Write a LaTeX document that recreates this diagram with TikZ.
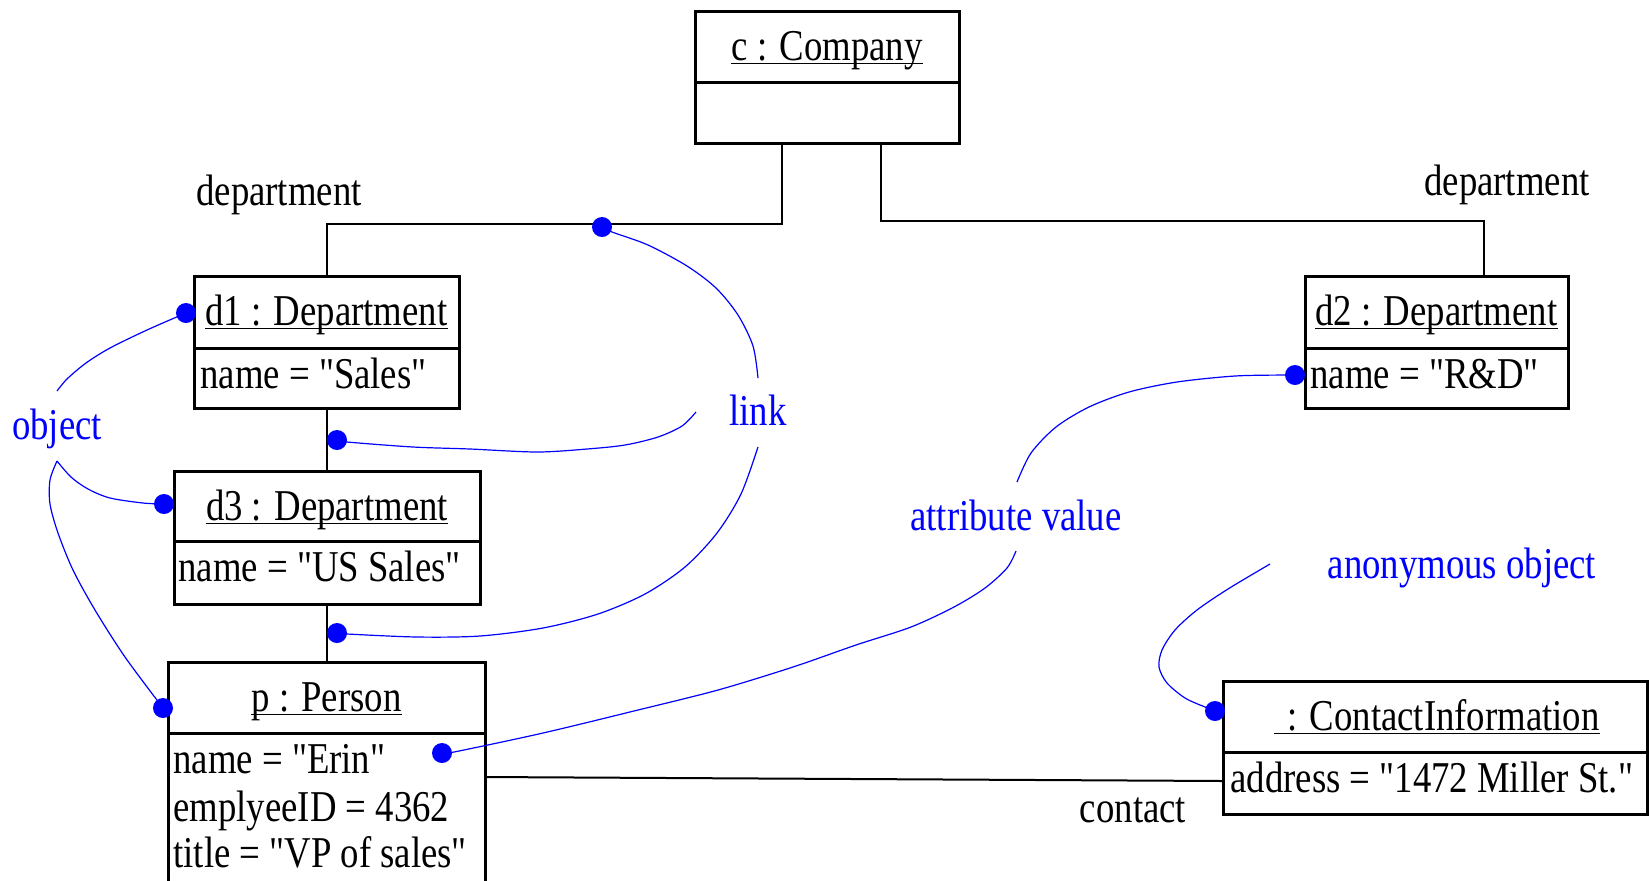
\documentclass[tikz,border=0pt]{standalone}
\usepackage{fontspec}
\setmainfont{Liberation Serif}[FakeStretch=0.835, Ligatures=TeXOff]
\usetikzlibrary{fit}
\definecolor{ann}{RGB}{0,0,255}
\begin{document}
\begin{tikzpicture}[x=0.5pt,y=-0.5pt,
  every node/.style={font=\fontsize{22}{26}\selectfont},
  obox/.style={draw, line width=1.5pt, inner sep=0pt},
  sep/.style={line width=1.5pt},
  conn/.style={line width=1pt},
  ttl/.style={anchor=base, inner sep=0pt},
  attr/.style={anchor=base west, inner sep=0pt},
  lbl/.style={anchor=base, inner sep=0pt},
  note/.style={anchor=base, inner sep=0pt, text=ann},
  nline/.style={draw=ann, line width=0.6pt},
  dot/.style={circle, fill=ann, inner sep=0pt, minimum size=10pt},
  uline/.style={line width=0.7pt},
]
\useasboundingbox (0,0) rectangle (1649,880);

% boxes
\node[obox, fit={(695,11) (959,143)}] (c) {};
\draw[sep] (695,82) -- (959,82);
\node[ttl] (tc) at (827,60) {c : Company};

\node[obox, fit={(194,276) (459,408)}] (d1) {};
\draw[sep] (194,348) -- (459,348);
\node[ttl] (t1) at (326.5,325) {d1 : Department};
\node[attr] (a1t) at (200,388) {name = "Sales"};

\node[obox, fit={(1305,276) (1568,408)}] (d2) {};
\draw[sep] (1305,348) -- (1568,348);
\node[ttl] (t2) at (1436.5,325) {d2 : Department};
\node[attr] (a2t) at (1310,388) {name = "R\&D"};

\node[obox, fit={(174,471) (480,604)}] (d3) {};
\draw[sep] (174,541) -- (480,541);
\node[ttl] (t3) at (327,520) {d3 : Department};
\node[attr] (a3t) at (178,581) {name = "US Sales"};

\node[obox, fit={(168,662) (485,900)}] (p) {};
\draw[sep] (168,733) -- (485,733);
\node[ttl] (tp) at (326.5,711) {p : Person};
\node[attr] (ap1) at (173,773) {name = "Erin"};
\node[attr] (ap2) at (173,821) {emplyeeID = 4362};
\node[attr] (ap3) at (173,867) {title = "VP of sales"};

\node[obox, fit={(1223,681) (1647,814)}] (ci) {};
\draw[sep] (1223,752) -- (1647,752);
\node[ttl] (ti) at (1437,730) {\hspace*{6.5pt}: ContactInformation};
\node[attr] (ait) at (1230,792) {address = "1472 Miller St."};

\foreach \n in {tc,t1,t2,t3,tp,ti}
  \draw[uline] ([yshift=-1.6pt]\n.base west) -- ([yshift=-1.6pt]\n.base east);

% links
\coordinate (cl) at (782,224);
\coordinate (cr) at (881,221);
\coordinate (cr2) at (1484,221);
\draw[conn] (c.south -| cl) -- (cl) -- (cl -| d1.north) -- (d1.north);
\draw[conn] (c.south -| cr) -- (cr) -- (cr2) -- (d2.north -| cr2);
\draw[conn] (d1.south) -- (d1.south |- d3.north);
\draw[conn] (d3.south) -- (d3.south |- p.north);
\coordinate (ce) at (485,777);
\coordinate (cw) at (1223,781);
\draw[conn] (ce) -- (cw);

% black labels
\node[lbl] (dl) at (279,205) {department};
\node[lbl] (dr) at (1507,195) {department};
\node[lbl] (ct) at (1133,822) {contact};

% blue notes
\node[note] (nobj) at (57,439) {object};
\node[note] (nlink) at (758,425) {link};
\node[note] (nattr) at (1016,530) {attribute value};
\node[note] (nanon) at (1462,578) {anonymous object};

\node[dot] (o1) at (186,313) {};
\node[dot] (o2) at (164,504) {};
\node[dot] (o3) at (163,708) {};
\node[dot] (l1) at (602,227) {};
\node[dot] (l2) at (337,440) {};
\node[dot] (l3) at (337,633) {};
\node[dot] (v1) at (1295,375) {};
\node[dot] (v2) at (442,753) {};
\node[dot] (an) at (1215,711) {};

\coordinate (eo1) at (57,391);
\coordinate (eo2) at (57,461);
\coordinate (el1) at (758,378);
\coordinate (el2) at (696,412);
\coordinate (el3) at (758,447);
\coordinate (ev1) at (1017,482);
\coordinate (ev2) at (1016,551);
\coordinate (ea) at (1270,564);

\draw[nline] plot[smooth] coordinates {(eo1) (67,379) (86,363) (110,348) (147,330) (o1)};
\draw[nline] plot[smooth] coordinates {(eo2) (71,477) (88,489) (110,498) (143,503) (o2)};
\draw[nline] plot[smooth] coordinates {(eo2) (50,480) (50,504) (58,533) (73,570) (95,610) (125,657) (o3)};

\draw[nline] plot[smooth] coordinates {(l1) (612,232) (648,245) (687,266) (716,288) (738,315) (753,346) (el1)};
\draw[nline] plot[smooth] coordinates {(el2) (682,426) (658,437) (625,445) (587,449) (537,452) (470,449) (413,447) (347,442) (l2)};
\draw[nline] plot[smooth] coordinates {(el3) (741,494) (717,533) (685,567) (645,594) (598,614) (543,628) (480,636) (417,637) (347,634) (l3)};

\draw[nline] plot[smooth] coordinates {(ev1) (1031,453) (1056,427) (1089,407) (1129,392) (1177,382) (1235,376) (1287,375) (v1)};
\draw[nline] plot[smooth] coordinates {(ev2) (1007,568) (985,588) (954,607) (911,627) (856,645) (793,667) (718,690) (638,710) (543,733) (454,752) (v2)};

\draw[nline] plot[smooth] coordinates {(ea) (1228,589) (1197,610) (1175,630) (1162,650) (1159,667) (1167,683) (1185,698) (1205,707) (an)};
\end{tikzpicture}
\end{document}
